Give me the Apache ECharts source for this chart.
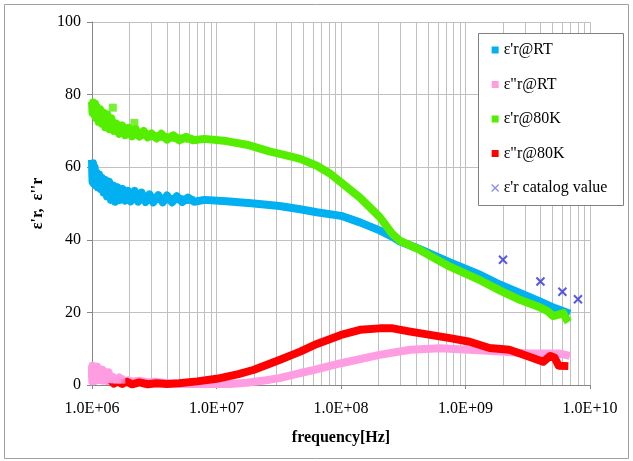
<!DOCTYPE html>
<html>
<head>
<meta charset="utf-8">
<script src="https://cdn.jsdelivr.net/npm/echarts@6/dist/echarts.min.js"></script>
<style>html,body{margin:0;padding:0;background:#fff}#c{width:633px;height:461px}</style>
</head>
<body>
<div id="c"></div>
<script>
// ---- data (frequency [Hz], value) ----
const seriesNames = ["ε'r@RT", 'ε"r@RT', "ε'r@80K", 'ε"r@80K', "ε'r catalog value"];
const colors = ['#00b0f0', '#ff9de2', '#55ee00', '#ff0000', '#3030dc'];

const epsRealRT = [
  [1.0e6,62],[1.01e6,56],[1.02e6,61],[1.035e6,55.5],[1.05e6,60],[1.07e6,55],[1.09e6,58.5],[1.11e6,54.5],
  [1.14e6,58],[1.17e6,54],[1.2e6,57],[1.24e6,53],[1.28e6,56.5],[1.32e6,52],[1.37e6,56],[1.42e6,51],
  [1.48e6,55],[1.54e6,50.5],[1.6e6,54.5],[1.68e6,51],[1.76e6,54],[1.85e6,50.8],[1.95e6,53.5],[2.05e6,50.6],
  [2.2e6,53.5],[2.35e6,50.5],[2.5e6,53],[2.7e6,50.4],[2.9e6,52.5],[3.1e6,50.3],[3.4e6,52.3],[3.7e6,50.3],
  [4.0e6,52.2],[4.4e6,50.3],[4.8e6,52],[5.3e6,50.4],[5.9e6,51.6],[6.6e6,50.5],[8e6,51],[1.2e7,50.6],
  [2e7,50],[3.2e7,49.3],[4.7e7,48.4],[6.4e7,47.6],[1.0e8,46.6],[1.42e8,44.8],[2.04e8,42.6],[2.6e8,40.8],
  [2.96e8,39.6],[4.3e8,37.4],[7.5e8,33.8],[1.32e9,30.3],[1.9e9,27.6],[2.76e9,25.3],[3.95e9,23],
  [5.2e9,21.2],[6.9e9,19.6]
];
const epsRealRTScatter = [
  [1.015e6,58.5],[1.04e6,58],[1.06e6,57.5],[1.1e6,56.5],[1.155e6,56],[1.22e6,55],[1.3e6,54.3],[1.4e6,53.5],
  [1.45e6,53],[1.57e6,52.5],[1.72e6,52.5],[1.9e6,52.2],[2.0e6,52],[2.13e6,52],[2.28e6,52],[2.43e6,51.8],
  [2.6e6,51.7],[2.8e6,51.5],[3.0e6,51.4],[3.25e6,51.3],[3.55e6,51.3],[3.85e6,51.2],[4.2e6,51.2],
  [4.6e6,51.2],[5.05e6,51.2],[5.6e6,51],[6.2e6,51]
];
const epsImagRT = [
  [1.0e6,5.3],[1.005e6,1],[1.01e6,5.3],[1.02e6,1],[1.03e6,5.2],[1.04e6,1],[1.05e6,4.5],[1.06e6,1.2],
  [1.075e6,5],[1.09e6,1.3],[1.1e6,5],[1.12e6,1.4],[1.15e6,4.4],[1.18e6,1.3],[1.21e6,4.2],[1.24e6,1.2],
  [1.28e6,3.6],[1.32e6,1.1],[1.36e6,3.5],[1.41e6,1.1],[1.47e6,2.2],[1.55e6,1],[1.65e6,2.1],[1.8e6,1],
  [1.95e6,1.3],[2.1e6,0.9],[2.4e6,1.2],[2.8e6,0.7],[3.2e6,0.9],[4e6,0.5],[6e6,0.3],[1.0e7,0.3],
  [1.28e7,0.3],[1.75e7,0.6],[2.5e7,1.3],[3.2e7,1.9],[4.7e7,3.3],[6.0e7,4.1],[1.0e8,6.0],[2.04e8,8.3],
  [3.6e8,9.7],[6.2e8,10.1],[1.08e9,9.7],[1.9e9,9.2],[3.25e9,8.7],[5.6e9,8.7],[6.9e9,8.0]
];
const epsImagRTScatter = [
  [1.0e6,3],[1.015e6,3],[1.035e6,3],[1.055e6,3],[1.08e6,3],[1.11e6,3],[1.135e6,2.8],[1.165e6,2.8],
  [1.2e6,2.7],[1.26e6,2.4],[1.3e6,2.4],[1.34e6,2.2],[1.39e6,2.2],[1.44e6,1.6],[1.5e6,1.6],[1.6e6,1.5],
  [1.72e6,1.5]
];
const epsReal80K = [
  [1.0e6,78],[1.01e6,75],[1.02e6,77.8],[1.04e6,74.5],[1.06e6,77.5],[1.08e6,73.5],[1.1e6,76.5],[1.13e6,72.5],
  [1.16e6,76],[1.2e6,72],[1.24e6,75],[1.28e6,71],[1.33e6,74.5],[1.38e6,70.5],[1.43e6,73.5],[1.5e6,70],
  [1.57e6,72],[1.65e6,69.2],[1.75e6,71.5],[1.85e6,68.8],[1.97e6,70.8],[2.1e6,68.5],[2.25e6,70.5],[2.4e6,68.4],
  [2.6e6,70],[2.8e6,68.2],[3.0e6,69.3],[3.3e6,67.9],[3.6e6,69.2],[4.0e6,67.6],[4.5e6,68.8],[5.0e6,67.4],
  [5.7e6,68.4],[6.5e6,67.4],[8e6,67.8],[1.2e7,67.2],[1.75e7,66.2],[2.7e7,64.3],[3.5e7,63.4],[4.7e7,62.3],
  [6.4e7,60.4],[8.2e7,58.2],[1.0e8,55.8],[1.42e8,51.6],[2.04e8,46.3],[2.6e8,41.5],[2.96e8,39.8],
  [4.3e8,37.2],[5.5e8,35.1],[7.5e8,32.6],[1.0e9,30.7],[1.32e9,28.8],[1.9e9,26],[2.76e9,23.4],
  [3.95e9,21.4],[4.6e9,20.3],[5.04e9,19],[5.6e9,19.4],[6.1e9,19.8],[6.4e9,18.4],[6.7e9,17.3]
];
const epsReal80KScatter = [
  [1.47e6,76.4],[2.19e6,72.2],
  [1.03e6,76],[1.07e6,75.5],[1.115e6,74.5],[1.18e6,74],[1.26e6,73],[1.355e6,72.5],[1.46e6,71.8],
  [1.61e6,70.8],[1.8e6,70],[1.9e6,69.8],[2.03e6,69.6],[2.17e6,69.5],[2.33e6,69.4],[2.5e6,69],
  [2.7e6,69],[2.9e6,68.8],[3.15e6,68.5],[3.45e6,68.5],[3.8e6,68.3],[4.25e6,68.2],[4.75e6,68],
  [5.35e6,67.9],[6.1e6,67.8]
];
const epsImag80K = [
  [1.42e6,1.2],[1.5e6,0.4],[1.6e6,1.0],[1.75e6,0.3],[1.9e6,0.9],[2.1e6,0.2],[2.4e6,0.7],[2.8e6,0.2],
  [3.3e6,0.5],[4e6,0.3],[5e6,0.5],[7e6,1.0],[1.0e7,1.7],[1.5e7,3.0],[2.0e7,4.2],[3.2e7,6.9],
  [4.7e7,9.2],[6.4e7,11.3],[1.0e8,13.8],[1.42e8,15.2],[2.04e8,15.6],[2.6e8,15.6],[3.6e8,14.7],
  [5.2e8,13.8],[7.5e8,12.9],[1.08e9,11.9],[1.56e9,10.2],[2.25e9,9.7],[3.25e9,7.8],[4.2e9,6.4],
  [4.8e9,8.0],[5.2e9,7.5],[5.6e9,5.3],[6.7e9,5.2]
];
const catalog = [[2e9,34.5],[4e9,28.5],[6e9,25.7],[8e9,23.6]];

// axis tick positions
const xMin = 1e6, xMax = 1e10;
const yMin = 0, yMax = 100, yStep = 20;
const minorGrid = [];
for (let e = 6; e < 10; e++) for (let k = 2; k <= 9; k++) minorGrid.push(k * Math.pow(10, e));

const FONT = 'Liberation Serif';
const chart = echarts.init(document.getElementById('c'), null, {renderer: 'canvas'});

function band(name, data, color) {
  return {
    name, type: 'line', data, z: 3, clip: false, showSymbol: false, symbol: 'none',
    itemStyle: {color},
    lineStyle: {color, width: 8, join: 'round', cap: 'butt'},
    emphasis: {disabled: true}
  };
}
function dots(name, data, color) {
  return {
    name, type: 'scatter', data, z: 3, clip: false, symbol: 'rect', symbolSize: 8,
    itemStyle: {color}, emphasis: {disabled: true}
  };
}

chart.setOption({
  animation: false,
  backgroundColor: '#fff',
  grid: {left: 92, right: 43, top: 22, bottom: 76},
  xAxis: {
    type: 'log', logBase: 10, min: xMin, max: xMax, splitNumber: 4,
    name: 'frequency[Hz]', nameLocation: 'middle', nameGap: 45,
    nameTextStyle: {fontFamily: FONT, fontSize: 16, fontWeight: 'bold', color: '#000'},
    axisLine: {lineStyle: {color: '#868686'}},
    axisTick: {show: true, length: 4, lineStyle: {color: '#868686'}},
    axisLabel: {
      fontFamily: FONT, fontSize: 16, color: '#000', margin: 16,
      formatter: v => '1.0E+' + String(Math.round(Math.log10(v))).padStart(2, '0')
    },
    splitLine: {show: true, lineStyle: {color: '#c0c0c0', width: 1}}
  },
  yAxis: {
    type: 'value', min: yMin, max: yMax, interval: yStep,
    name: "ε'r,  ε''r", nameLocation: 'middle', nameGap: 46, nameRotate: 90,
    nameTextStyle: {fontFamily: FONT, fontSize: 16, fontWeight: 'bold', color: '#000'},
    axisLine: {show: true, lineStyle: {color: '#868686'}},
    axisTick: {show: true, length: 5, lineStyle: {color: '#868686'}},
    axisLabel: {fontFamily: FONT, fontSize: 16, color: '#000', margin: 11},
    splitLine: {show: true, lineStyle: {color: '#c0c0c0', width: 1}}
  },
  legend: {
    orient: 'vertical', left: 491, top: 42, padding: 0, z: 60,
    itemWidth: 7, itemHeight: 7, itemGap: 18.5,
    textStyle: {fontFamily: FONT, fontSize: 16, lineHeight: 16, color: '#000'},
    data: [
      {name: seriesNames[0], icon: 'rect'},
      {name: seriesNames[1], icon: 'rect'},
      {name: seriesNames[2], icon: 'rect'},
      {name: seriesNames[3], icon: 'rect'},
      {name: seriesNames[4], icon: 'path://M0,0L10,10M10,0L0,10',
       itemStyle: {color: 'rgba(0,0,0,0)', borderColor: '#6f6ff0', borderWidth: 1.3}}
    ]
  },
  graphic: [
    {type: 'rect', silent: true, z: 0, shape: {x: 4.5, y: 4.5, width: 624, height: 454},
     style: {fill: 'none', stroke: '#a0a0a0', lineWidth: 1}},
    {type: 'rect', silent: true, z: 50, shape: {x: 478.5, y: 33.5, width: 145, height: 172},
     style: {fill: '#fff', stroke: '#808080', lineWidth: 1}}
  ],
  series: [
    {
      type: 'line', data: [], z: 1, silent: true,
      markLine: {
        z: 1, silent: true, symbol: ['none', 'none'], label: {show: false}, animation: false,
        lineStyle: {color: '#c0c0c0', type: 'solid', width: 1},
        emphasis: {disabled: true},
        data: minorGrid.map(v => ({xAxis: v}))
      }
    },
    band(seriesNames[0], epsRealRT, colors[0]),
    dots(seriesNames[0], epsRealRTScatter, colors[0]),
    band(seriesNames[1], epsImagRT, colors[1]),
    dots(seriesNames[1], epsImagRTScatter, colors[1]),
    band(seriesNames[2], epsReal80K, colors[2]),
    dots(seriesNames[2], epsReal80KScatter, colors[2]),
    band(seriesNames[3], epsImag80K, colors[3]),
    {name: seriesNames[4], type: 'scatter', z: 4, data: catalog,
     symbol: 'path://M0,0L10,10M10,0L0,10', symbolSize: 8,
     itemStyle: {color: 'rgba(0,0,0,0)', borderColor: colors[4], borderWidth: 2}}
  ]
});
</script>
</body>
</html>
